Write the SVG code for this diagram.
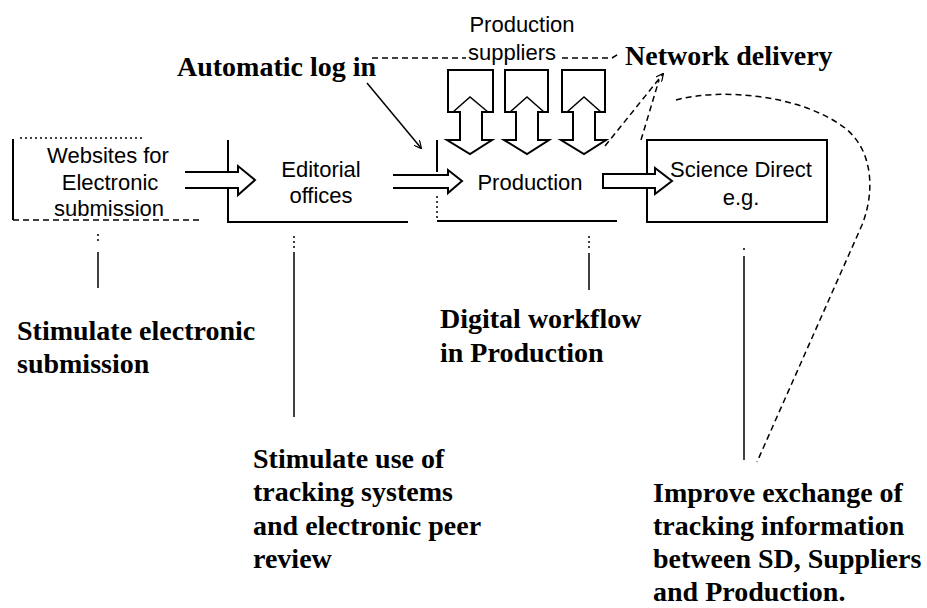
<svg xmlns="http://www.w3.org/2000/svg" width="927" height="608" viewBox="0 0 927 608">
<style>
.bg{fill:#fff}
.box{fill:none;stroke:#000;stroke-width:2}
.dot{fill:none;stroke:#000;stroke-width:1.5;stroke-dasharray:2 3}
.dash{fill:none;stroke:#000;stroke-width:1.5;stroke-dasharray:6 4}
.blk{fill:#fff;stroke:#000;stroke-width:2;stroke-linejoin:miter}
.lead{fill:none;stroke:#000;stroke-width:1.5}
.sans{font-family:"Liberation Sans",Arial,sans-serif;font-size:22px;fill:#000;text-anchor:middle}
.ser{font-family:"Liberation Serif","Times New Roman",serif;font-size:28px;font-weight:bold;fill:#000}
</style>
<defs>
<marker id="ah" viewBox="0 0 10 10" refX="9" refY="5" markerWidth="8" markerHeight="8" orient="auto" markerUnits="userSpaceOnUse">
<path d="M0,0 L10,5 L0,10" fill="none" stroke="#000" stroke-width="1.5"/>
</marker>
</defs>
<rect class="bg" width="927" height="608"/>

<g id="websites">
<path class="dot" d="M20,138 H145"/>
<path class="box" d="M13,139 V220"/>
<path class="dash" d="M13,220 H200"/>
<text class="sans" x="108" y="163">Websites for</text>
<text class="sans" x="110" y="190">Electronic</text>
<text class="sans" x="109" y="216">submission</text>
</g>

<g id="editorial">
<path class="box" d="M228,140 V172 M228,188 V222 H408"/>
<text class="sans" x="321" y="177">Editorial</text>
<text class="sans" x="321" y="203">offices</text>
</g>

<g id="production">
<path class="box" d="M437,140 V172"/>
<path class="dot" d="M437,196 V220"/>
<path class="box" d="M437,221 H617"/>
<text class="sans" x="530" y="190">Production</text>
</g>

<g id="sciencedirect">
<rect class="box" x="647" y="140" width="180" height="82"/>
<text class="sans" x="741" y="177">Science Direct</text>
<text class="sans" x="741" y="205">e.g.</text>
</g>

<g id="suppliers">
<text class="sans" x="522" y="32">Production</text>
<path class="dash" d="M372,58 H612 L620,53"/>
<rect x="466" y="44" width="94" height="20" fill="#fff"/>
<text class="sans" x="512" y="60">suppliers</text>
<path class="blk" d="M460,112 H448 V70 H493 V112 H482 V140 H492 L470,154 L447,140 H460 Z"/>
<path class="lead" d="M453,112 L470,97 L488,112"/>
<path class="blk" d="M516,112 H505 V70 H548 V112 H538 V140 H549 L527,154 L504,140 H516 Z"/>
<path class="lead" d="M510,112 L527,97 L544,112"/>
<path class="blk" d="M573,112 H562 V70 H605 V112 H595 V140 H606 L584,154 L561,140 H573 Z"/>
<path class="lead" d="M567,112 L584,97 L601,112"/>
</g>

<g id="labels">
<text class="ser" x="177" y="76">Automatic log in</text>
<text class="ser" x="625" y="65">Network delivery</text>
<text class="ser" x="17" y="340">Stimulate electronic</text>
<text class="ser" x="17" y="373">submission</text>
<text class="ser" x="440" y="328">Digital workflow</text>
<text class="ser" x="440" y="362">in Production</text>
<text class="ser" x="253" y="468">Stimulate use of</text>
<text class="ser" x="253" y="501">tracking systems</text>
<text class="ser" x="253" y="535">and electronic peer</text>
<text class="ser" x="253" y="568">review</text>
<text class="ser" x="653" y="502">Improve exchange of</text>
<text class="ser" x="653" y="535">tracking information</text>
<text class="ser" x="653" y="568">between SD, Suppliers</text>
<text class="ser" x="653" y="601">and Production.</text>
</g>

<g id="connectors">
<path class="blk" d="M185,172 H238 V166 L255,180 L238,195 V188 H185"/>
<path class="blk" d="M393,175 H448 V170 L462,181 L448,193 V188 H393"/>
<path class="blk" d="M603,174 H655 V168 L672,181 L655,194 V188 H603 Z"/>
<path class="lead" d="M367,83 L421,148" marker-end="url(#ah)"/>
<path class="dash" d="M605,146 L663,74" marker-end="url(#ah)"/>
<path class="dash" d="M641,140 L659,80"/>
<path class="dash" d="M676,100 C720,88 800,94 845,128 C875,152 874,195 862,225 L757,462"/>
<path class="dot" d="M98,234 V244"/>
<path class="lead" d="M98,252 V288"/>
<path class="dot" d="M294,236 V248"/>
<path class="lead" d="M294,252 V417"/>
<path class="dot" d="M589,236 V248"/>
<path class="lead" d="M589,253 V290"/>
<path class="dot" d="M744,248 V253"/>
<path class="lead" d="M744,256 V460"/>
</g>
</svg>
